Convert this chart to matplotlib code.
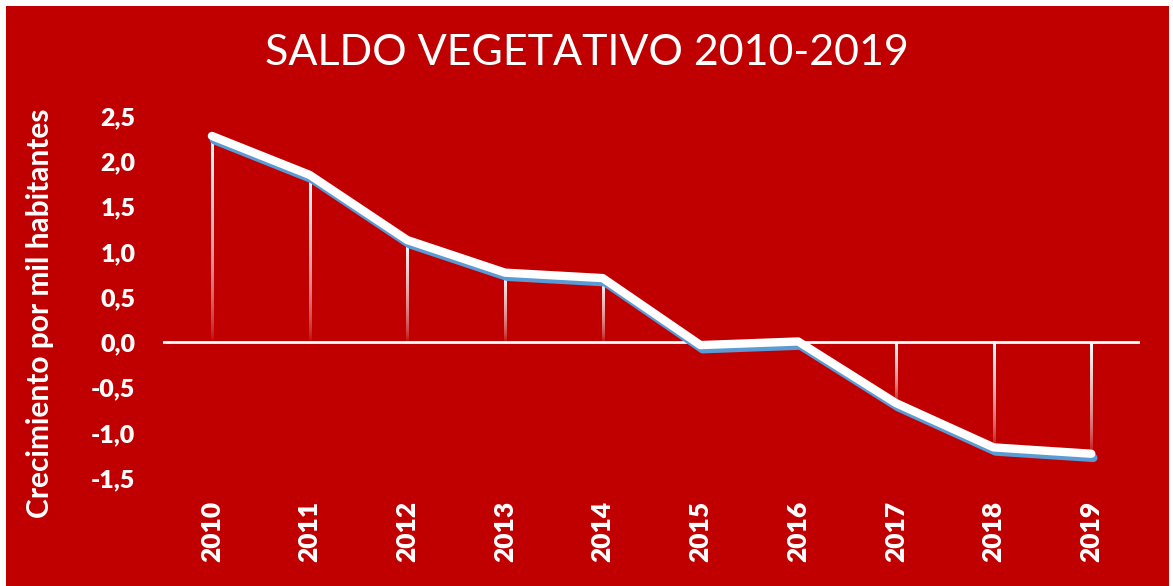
import numpy as np
import matplotlib.pyplot as plt
import matplotlib.patheffects as pe
from matplotlib.patches import Rectangle

# datos
anios = ['2010', '2011', '2012', '2013', '2014', '2015', '2016', '2017', '2018', '2019']
saldo = [2.28, 1.85, 1.13, 0.77, 0.71, -0.03, 0.01, -0.67, -1.16, -1.23]
ticks_y = [-1.5, -1.0, -0.5, 0.0, 0.5, 1.0, 1.5, 2.0, 2.5]

ROJO = '#C00000'
AZUL = '#5B9BD5'
fuente = 'Lato'

fig = plt.figure(figsize=(11.73, 5.86), dpi=100, facecolor='white')
# fondo rojo con un pequeño margen blanco
fig.patches.append(Rectangle((6 / 1173, 0), 1163 / 1173, 580 / 586,
                             transform=fig.transFigure, facecolor=ROJO,
                             edgecolor='none', zorder=-10))

ax = fig.add_axes([0.139, 0.184, 0.833, 0.618])
ax.set_facecolor('none')

x = np.arange(len(anios))
y = np.array(saldo)

# lineas de caida con degradado (blanco arriba, transparente abajo)
grad = np.zeros((100, 1, 4))
grad[:, :, :3] = 1.0
grad[:, 0, 3] = np.linspace(1.0, 0.0, 100) ** 0.6
ancho = 0.022
for xi, yi in zip(x, y):
    arriba, abajo = max(yi, 0), min(yi, 0)
    if arriba - abajo < 0.05:
        continue
    ax.imshow(grad, extent=[xi - ancho / 2, xi + ancho / 2, abajo, arriba],
              aspect='auto', interpolation='bilinear', zorder=2)

# linea del cero
ax.axhline(0, color='white', lw=2, zorder=1)

# linea principal blanca con sombra azul
ax.plot(x, y, color='white', lw=6, solid_capstyle='round', solid_joinstyle='round', zorder=3,
        path_effects=[pe.SimpleLineShadow(offset=(1.5, -3), shadow_color=AZUL, alpha=1),
                      pe.Normal()])

ax.set_xlim(-0.5, len(anios) - 0.5)
ax.set_ylim(-1.5, 2.5)
ax.set_yticks(ticks_y)
ax.set_yticklabels([f'{t:.1f}'.replace('.', ',') for t in ticks_y],
                   color='white', fontsize=18, fontweight='heavy', family=fuente)
ax.set_xticks(x)
ax.set_xticklabels(anios, rotation=90, color='white', fontsize=19,
                   fontweight='heavy', family=fuente)
ax.tick_params(axis='both', length=0)
ax.tick_params(axis='x', pad=16)
ax.tick_params(axis='y', pad=20)
for s in ax.spines.values():
    s.set_visible(False)

ax.set_ylabel('Crecimiento por mil habitantes', color='white', fontsize=21.5,
              fontweight='bold', family=fuente)
ax.yaxis.set_label_coords(-0.112, 0.455)

fig.text(0.5, 0.91, 'SALDO VEGETATIVO 2010-2019', color='white', fontsize=31,
         family=fuente, ha='center', va='center')

fig.savefig('out.png', dpi=100, facecolor=fig.get_facecolor())
